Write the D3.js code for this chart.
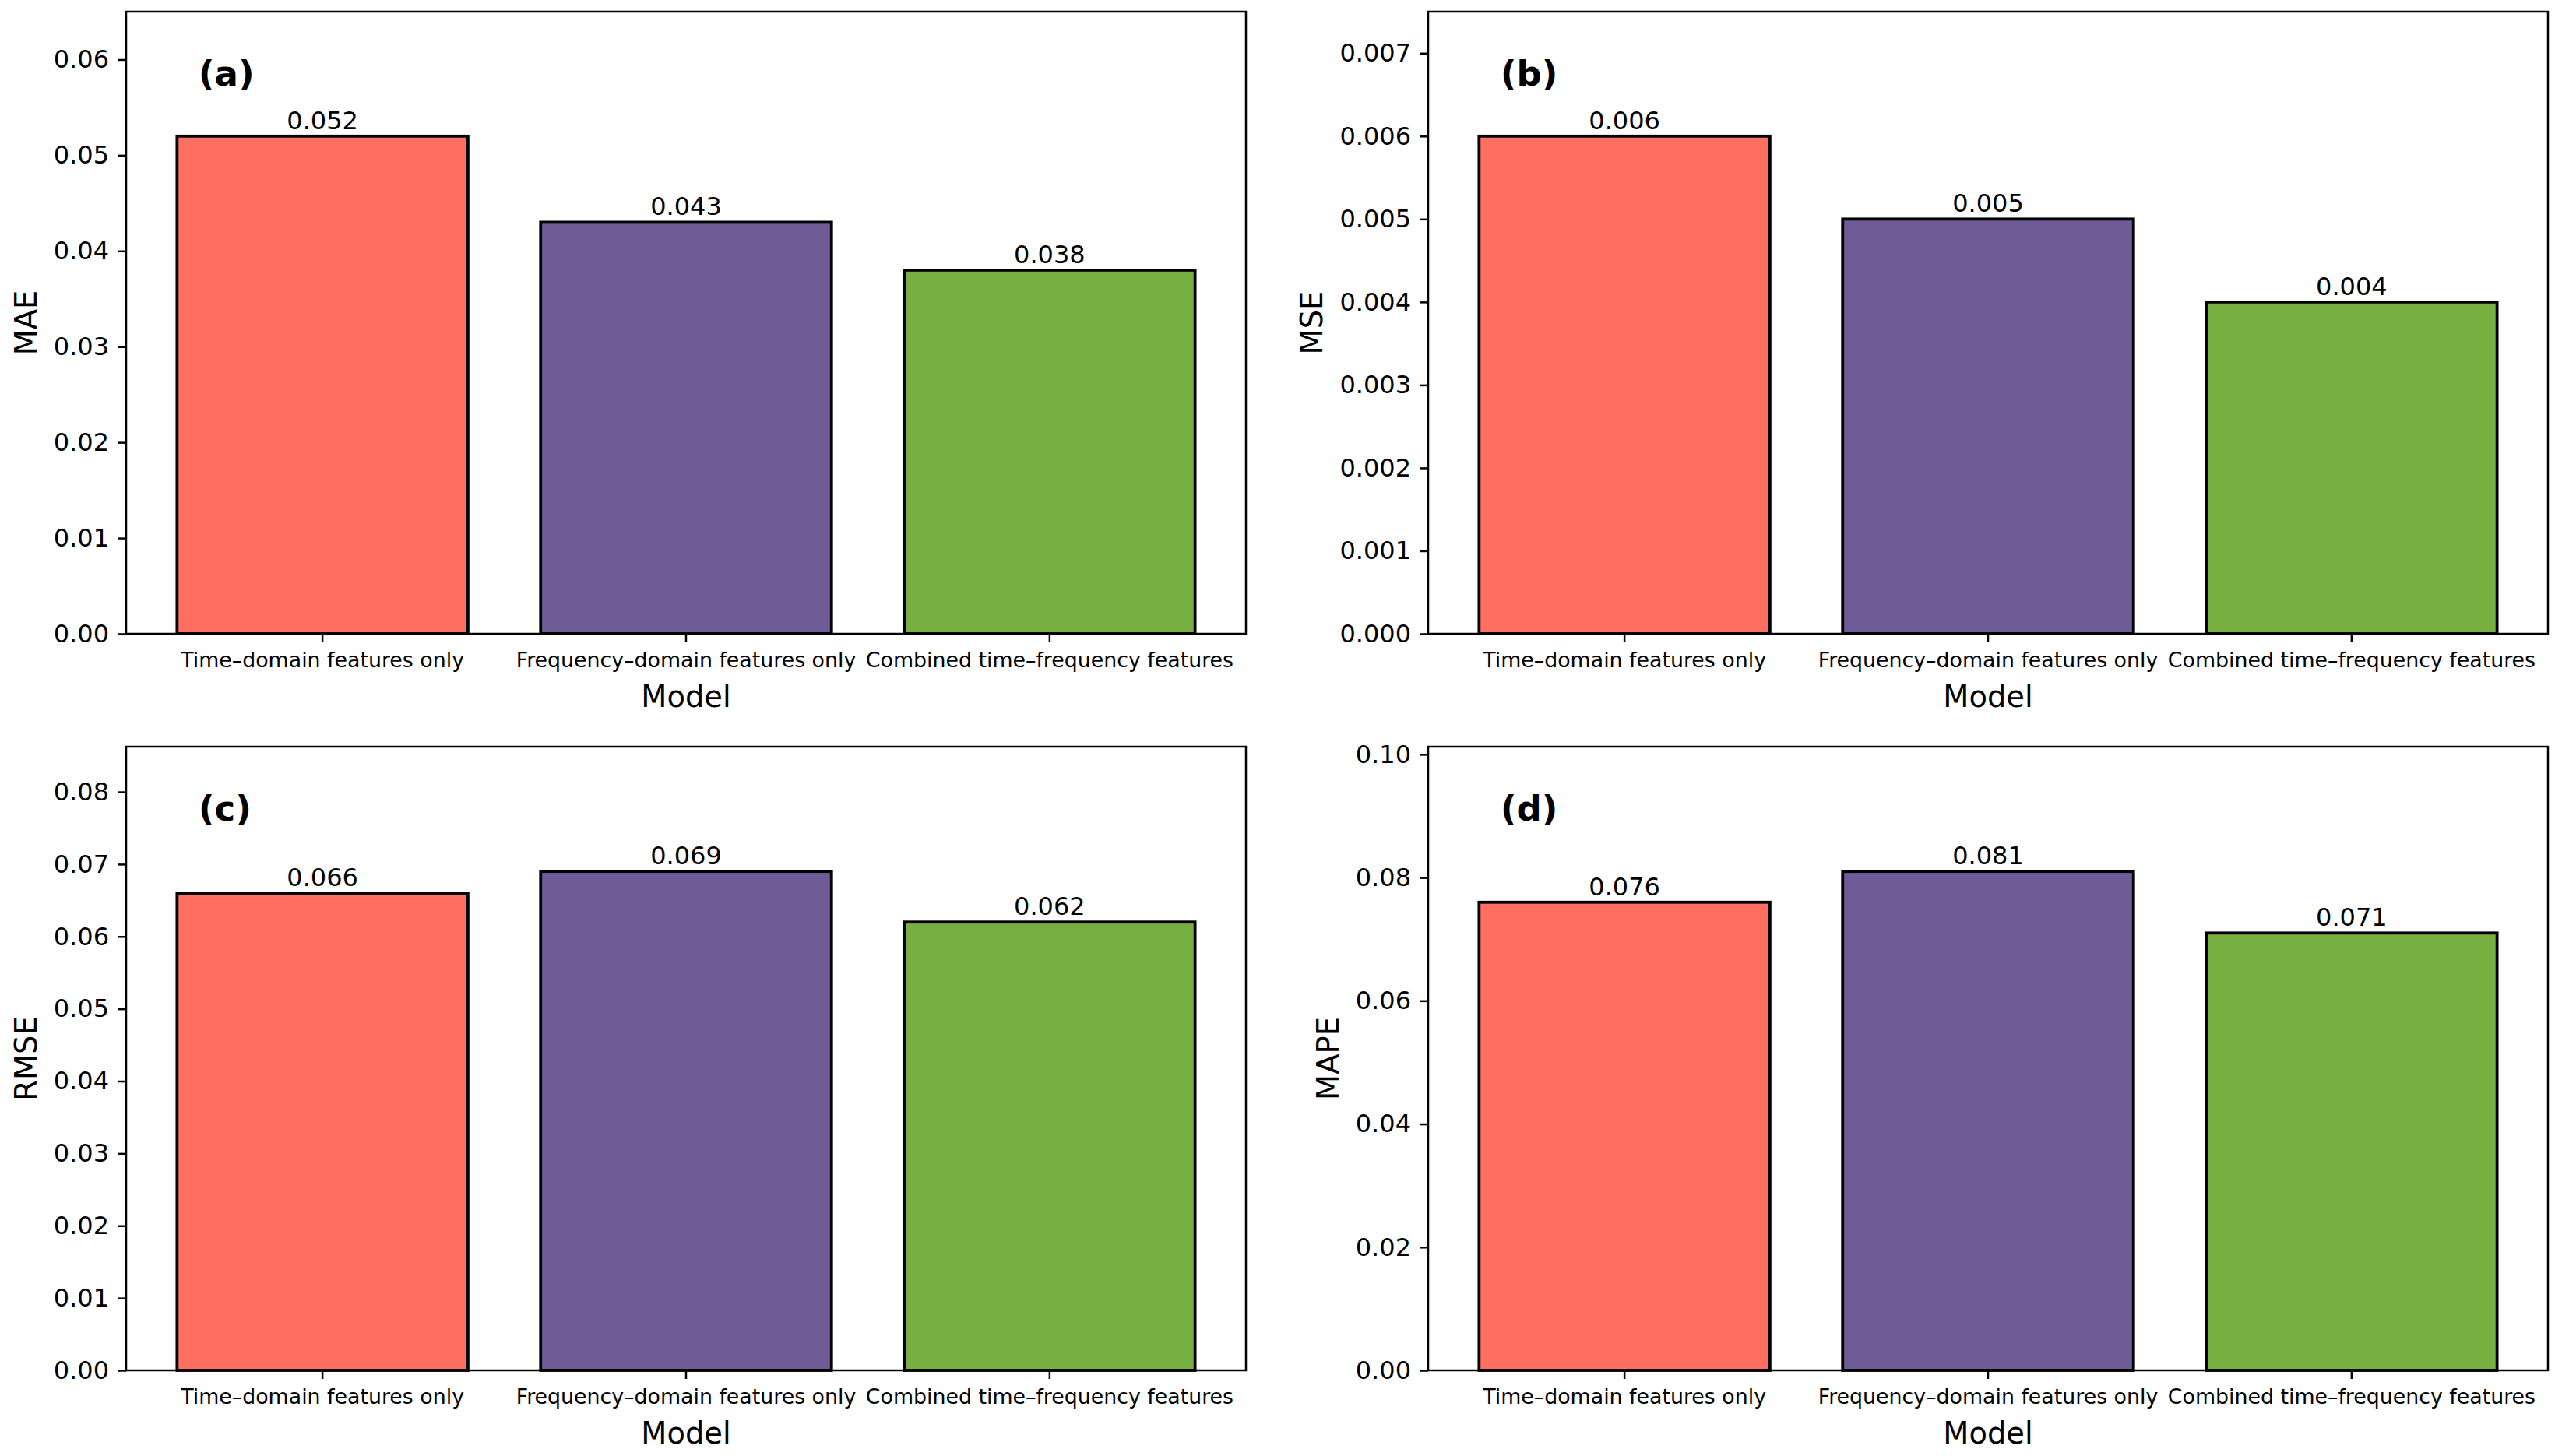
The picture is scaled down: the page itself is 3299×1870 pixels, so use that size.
<!DOCTYPE html>
<html>
<head>
<meta charset="utf-8">
<script src="https://cdn.jsdelivr.net/npm/d3@7"></script>
<style>
  body { margin: 0; background: #fff; }
  text { font-family: "DejaVu Sans", sans-serif; fill: #000; }
</style>
</head>
<body>
<div id="chart"></div>
<script>
// data
const models = ["Time–domain features only", "Frequency–domain features only", "Combined time–frequency features"];
const maeValues  = [0.052, 0.043, 0.038];
const mseValues  = [0.006, 0.005, 0.004];
const rmseValues = [0.066, 0.069, 0.062];
const mapeValues = [0.076, 0.081, 0.071];

const metricNames  = ["MAE", "MSE", "RMSE", "MAPE"];
const panelLetters = ["(a)", "(b)", "(c)", "(d)"];

const maeTicks  = [0, 0.01, 0.02, 0.03, 0.04, 0.05, 0.06];
const mseTicks  = [0, 0.001, 0.002, 0.003, 0.004, 0.005, 0.006, 0.007];
const rmseTicks = [0, 0.01, 0.02, 0.03, 0.04, 0.05, 0.06, 0.07, 0.08];
const mapeTicks = [0, 0.02, 0.04, 0.06, 0.08, 0.10];

const barColors = ["#FF6F61", "#6F5B96", "#77B041"];

const W = 3299, H = 1870;

var svg = d3.select("#chart")
  .append("svg")
  .attr("width", W)
  .attr("height", H);

svg.append("rect").attr("width", W).attr("height", H).attr("fill", "#fff");

// panel boxes (pixels)
var cols = [162, 1834], panelW = 1438;
var rows = [{ top: 15, bottom: 814 }, { top: 959, bottom: 1760 }];

var panels = [
  { values: maeValues,  ticks: maeTicks,  fmt: d3.format(".2f") },
  { values: mseValues,  ticks: mseTicks,  fmt: d3.format(".3f") },
  { values: rmseValues, ticks: rmseTicks, fmt: d3.format(".2f") },
  { values: mapeValues, ticks: mapeTicks, fmt: d3.format(".2f") }
];

panels.forEach(function (p, i) {
  var left = cols[i % 2], right = left + panelW;
  var top = rows[Math.floor(i / 2)].top, bottom = rows[Math.floor(i / 2)].bottom;

  var g = svg.append("g");

  var x = d3.scaleBand()
    .domain(models)
    .range([left, right])
    .paddingInner(0.2)
    .paddingOuter(0.14);

  var y = d3.scaleLinear()
    .domain([0, d3.max(p.values) * 1.25])
    .range([bottom, top]);

  // bars
  g.selectAll("rect.bar")
    .data(p.values)
    .enter()
    .append("rect")
    .attr("class", "bar")
    .attr("x", function (d, j) { return x(models[j]); })
    .attr("y", function (d) { return y(d); })
    .attr("width", x.bandwidth())
    .attr("height", function (d) { return bottom - y(d); })
    .attr("fill", function (d, j) { return barColors[j]; })
    .attr("stroke", "#000")
    .attr("stroke-width", 3.8);

  // value labels
  g.selectAll("text.val")
    .data(p.values)
    .enter()
    .append("text")
    .attr("class", "val")
    .attr("x", function (d, j) { return x(models[j]) + x.bandwidth() / 2; })
    .attr("y", function (d) { return y(d) - 9; })
    .attr("text-anchor", "middle")
    .style("font-size", "32px")
    .text(function (d) { return d3.format(".3f")(d); });

  // y axis
  var yAxis = g.append("g")
    .attr("transform", "translate(" + left + ",0)")
    .call(d3.axisLeft(y).tickValues(p.ticks).tickFormat(p.fmt).tickSize(11).tickPadding(11));
  yAxis.select(".domain").remove();
  yAxis.selectAll("line").attr("stroke", "#000").attr("stroke-width", 2.5);
  yAxis.selectAll("text").style("font-size", "32px").attr("fill", "#000");

  // x axis
  var xAxis = g.append("g")
    .attr("transform", "translate(0," + bottom + ")")
    .call(d3.axisBottom(x).tickSize(11).tickPadding(13));
  xAxis.select(".domain").remove();
  xAxis.selectAll("line").attr("stroke", "#000").attr("stroke-width", 2.5);
  xAxis.selectAll("text").style("font-size", "26.8px").attr("fill", "#000");

  // frame
  g.append("rect")
    .attr("x", left).attr("y", top)
    .attr("width", panelW).attr("height", bottom - top)
    .attr("fill", "none")
    .attr("stroke", "#000")
    .attr("stroke-width", 2.5);

  // y label, placed left of the widest tick label
  var maxW = d3.max(yAxis.selectAll("text").nodes(), function (n) { return n.getBBox().width; });
  var lx = left - 22 - maxW - 13 - 9;
  g.append("text")
    .attr("transform", "translate(" + lx + "," + ((top + bottom) / 2) + ") rotate(-90)")
    .attr("text-anchor", "middle")
    .style("font-size", "38.4px")
    .text(metricNames[i]);

  // x label
  g.append("text")
    .attr("x", (left + right) / 2)
    .attr("y", bottom + 94)
    .attr("text-anchor", "middle")
    .style("font-size", "38.4px")
    .text("Model");

  // panel letter
  g.append("text")
    .attr("x", left + 93)
    .attr("y", top + 95)
    .style("font-size", "45px")
    .style("font-weight", "bold")
    .text(panelLetters[i]);
});
</script>
</body>
</html>
